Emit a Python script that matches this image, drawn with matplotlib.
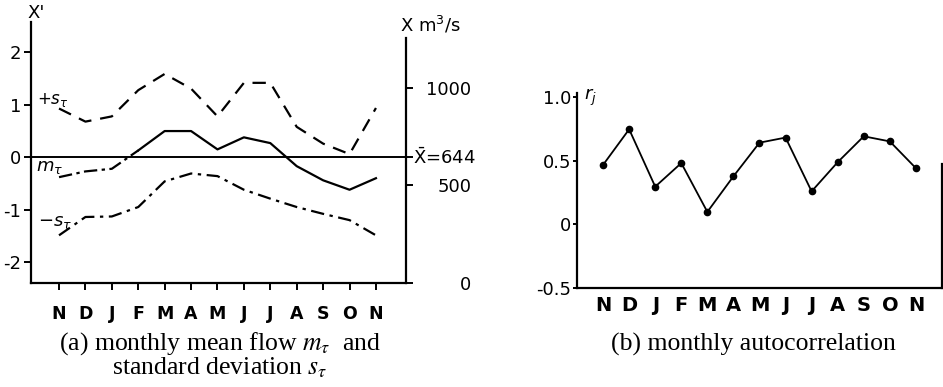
import matplotlib.pyplot as plt
import numpy as np

plt.rcParams['font.family'] = ['DejaVu Sans']
plt.rcParams['mathtext.fontset'] = 'dejavusans'

months = ['N', 'D', 'J', 'F', 'M', 'A', 'M', 'J', 'J', 'A', 'S', 'O', 'N']

# standardised monthly mean and +/- one standard deviation (X')
m_tau = [-0.38, -0.27, -0.22, 0.13, 0.50, 0.50, 0.15, 0.38, 0.27, -0.17, -0.44, -0.62, -0.40]
plus_s = [0.93, 0.68, 0.78, 1.28, 1.59, 1.31, 0.78, 1.42, 1.42, 0.58, 0.26, 0.06, 0.94]
minus_s = [-1.49, -1.14, -1.13, -0.95, -0.46, -0.31, -0.36, -0.62, -0.79, -0.95, -1.08, -1.20, -1.49]

# monthly lag-one autocorrelation
r_j = [0.466, 0.745, 0.295, 0.48, 0.097, 0.376, 0.64, 0.68, 0.258, 0.487, 0.69, 0.65, 0.44]

x_mean = 644
right_ticks = [0, 500, 1000]

x = np.arange(len(months))
lw = 1.6

fig = plt.figure(figsize=(9.43, 3.87), dpi=100)

# ---------------- (a) ----------------
ax = fig.add_axes([0.0329, 0.2687, 0.3977, 0.677])
ax.plot(x[:4], m_tau[:4], color='k', lw=lw, ls=(0, (6, 2, 1.5, 2)))
ax.plot(x[3:], m_tau[3:], color='k', lw=lw)
ax.plot(x, plus_s, color='k', lw=lw, ls=(0, (6, 4)))
ax.plot(x, minus_s, color='k', lw=lw, ls=(0, (6, 2.5, 1.5, 2.5)))
ax.axhline(0, color='k', lw=1.4)

ax.set_xlim(-1.06, 13.14)
ax.set_ylim(-2.4, 2.6)
ax.set_xticks(x)
ax.set_xticklabels(months, fontsize=12.5, fontweight='semibold')
ax.set_yticks([-2, -1, 0, 1, 2])
ax.set_yticklabels(['-2', '-1', '0', '1', '2'], fontsize=13)
ax.tick_params(axis='x', direction='out', length=5, width=1.4, pad=11)
ax.tick_params(axis='y', direction='out', length=5, width=1.4, pad=2)
ax.spines['top'].set_visible(False)
ax.spines['right'].set_visible(False)
for s in ['left', 'bottom']:
    ax.spines[s].set_linewidth(1.6)
ax.spines['left'].set_bounds(-2.4, 2.58)

ax.text(-0.22, 1.09, r'$+s_\tau$', fontsize=12, ha='center', va='center')
ax.text(-0.34, -0.19, r'$m_\tau$', fontsize=13, ha='center', va='center')
ax.text(-0.15, -1.24, r'$-s_\tau$', fontsize=13, ha='center', va='center')

# right axis in m3/s
s = x_mean / 2.4
ax2 = ax.twinx()
ax2.set_ylim(x_mean - 2.4 * s, x_mean + 2.6 * s)
ax2.set_yticks(right_ticks + [x_mean])
ax2.set_yticklabels([str(v) for v in right_ticks] + [''], fontsize=13, ha='right')
ax2.tick_params(axis='y', direction='out', length=5, width=1.4, pad=42)
for sp in ['top', 'left', 'bottom']:
    ax2.spines[sp].set_visible(False)
ax2.spines['right'].set_linewidth(1.6)
ax2.spines['right'].set_bounds(0, x_mean + 2.27 * s)
ax2.text(1.018, 0.48, r'$\bar{\mathrm{X}}$=644', transform=ax2.transAxes,
         fontsize=13, ha='left', va='center')

fig.text(27 / 943, 1 - 13 / 387, "X'", fontsize=13, ha='left', va='center')
fig.text(400 / 943, 1 - 25 / 387, r'X m$^3$/s', fontsize=13, ha='left', va='center')

fig.text(220 / 943, 1 - 344 / 387, r'(a) monthly mean flow $m_\tau$  and',
         family='Liberation Serif', math_fontfamily='stix', fontsize=18.5,
         ha='center', va='center')
fig.text(220 / 943, 1 - 368 / 387, r'standard deviation $s_\tau$',
         family='Liberation Serif', math_fontfamily='stix', fontsize=18.5,
         ha='center', va='center')

# ---------------- (b) ----------------
bx = fig.add_axes([0.6119, 0.2558, 0.387, 0.504])
bx.plot(x, r_j, color='k', lw=1.3, marker='o', markersize=4.5)
bx.set_xlim(-1, 13)
bx.set_ylim(-0.5, 1.03)
bx.set_xticks(x)
bx.set_xticklabels(months, fontsize=14, fontweight='semibold')
bx.set_yticks([-0.5, 0, 0.5, 1.0])
bx.set_yticklabels(['-0.5', '0', '0.5', '1.0'], fontsize=13)
bx.tick_params(axis='x', length=0, pad=6)
bx.tick_params(axis='y', direction='out', length=3, width=1.4, pad=1)
bx.spines['top'].set_visible(False)
for sp in ['left', 'bottom', 'right']:
    bx.spines[sp].set_linewidth(1.6)
bx.spines['right'].set_bounds(-0.5, 0.47)

fig.text(584 / 943, 1 - 97 / 387, r'$r_j$', fontsize=13, ha='left', va='center')
fig.text(753 / 943, 1 - 344 / 387, '(b) monthly autocorrelation',
         family='Liberation Serif', fontsize=18.5, ha='center', va='center')

fig.savefig('out.png', dpi=100)
